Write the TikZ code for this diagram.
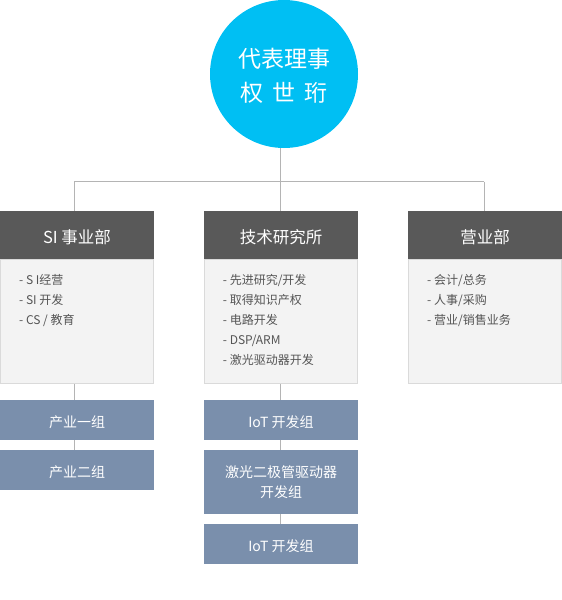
\documentclass[tikz,border=0pt]{standalone}
\usepackage{fontspec}
\setmainfont{Noto Sans CJK SC}
\definecolor{circC}{HTML}{00BFF3}
\definecolor{headC}{HTML}{595959}
\definecolor{bodyC}{HTML}{F3F3F3}
\definecolor{borderC}{HTML}{DADADA}
\definecolor{subC}{HTML}{7A8FAC}
\definecolor{lineC}{HTML}{B4B4B4}
\definecolor{itemC}{HTML}{555555}
\begin{document}
\begin{tikzpicture}[x=1pt,y=1pt,
  conn/.style={draw=lineC, line width=1pt},
  head/.style={rectangle, fill=headC, text=white, minimum width=154pt, minimum height=48pt, inner sep=0pt, text height=17.8pt, text depth=1pt, font=\fontsize{16.5}{18}\selectfont},
  bodybox/.style={rectangle, fill=bodyC, draw=borderC, line width=1pt, minimum width=153pt, minimum height=124pt, inner sep=0pt},
  item/.style={anchor=base west, inner sep=0pt, text=itemC, font=\fontsize{12}{14}\selectfont},
  sub/.style={rectangle, fill=subC, text=white, minimum width=154pt, inner sep=0pt, align=center, font=\fontsize{14}{20}\selectfont},
  subone/.style={sub, minimum height=40pt, text height=15.6pt, text depth=1pt},
  ceotext/.style={text=white, anchor=base, inner sep=0pt, font=\fontsize{23}{26}\selectfont}
]
\useasboundingbox (0,0) rectangle (562,-600);
% CEO circle
\node[circle, fill=circC, minimum size=148pt, inner sep=0pt] (ceo) at (284,-74) {};
\node[ceotext] (t1) at (284,-67.8) {代表理事};
\node[ceotext] (t2) at (284,-101.5) {权\hspace{9pt}世\hspace{9pt}珩};
% department bodies
\node[bodybox] (b1) at (77,-321.8) {};
\node[bodybox] (b2) at (281,-321.8) {};
\node[bodybox] (b3) at (485,-321.8) {};
% department headers
\node[head] (h1) at (77,-235.2) {SI 事业部};
\node[head] (h2) at (281,-235.2) {技术研究所};
\node[head] (h3) at (485,-235.2) {营业部};
% items
\node[item] (i11) at (19,-284.5) {- S I经营};
\node[item] (i12) at (19,-304.5) {- SI 开发};
\node[item] (i13) at (19,-324.5) {- CS / 教育};
\node[item] (i21) at (222.7,-284.5) {- 先进研究/开发};
\node[item] (i22) at (222.7,-304.5) {- 取得知识产权};
\node[item] (i23) at (222.7,-324.5) {- 电路开发};
\node[item] (i24) at (222.7,-344.5) {- DSP/ARM};
\node[item] (i25) at (222.7,-364.5) {- 激光驱动器开发};
\node[item] (i31) at (427,-284.5) {- 会计/总务};
\node[item] (i32) at (427,-304.5) {- 人事/采购};
\node[item] (i33) at (427,-324.5) {- 营业/销售业务};
% sub groups
\node[subone] (s1) at (77,-420) {产业一组};
\node[subone] (s2) at (77,-470) {产业二组};
\node[subone] (s3) at (281,-420) {IoT 开发组};
\node[sub, minimum height=64pt] (s4) at (281,-482) {激光二极管驱动器\\开发组};
\node[subone] (s5) at (281,-544) {IoT 开发组};
% connectors
\coordinate (j) at (280.3,-181.5);
\draw[conn] (ceo.south -| j) -- (j);
\draw[conn] ([xshift=-3pt]h1.north |- j) -- ([xshift=-0.7pt]h3.north |- j);
\draw[conn] ([xshift=-3pt]h1.north |- j) -- ([xshift=-3pt]h1.north);
\draw[conn] (j) -- ([xshift=-0.7pt]h2.north);
\draw[conn] ([xshift=-0.7pt]h3.north |- j) -- ([xshift=-0.7pt]h3.north);
\draw[conn] ([xshift=-3pt]b1.south) -- ([xshift=-3pt]s1.north);
\draw[conn] ([xshift=-3pt]s1.south) -- ([xshift=-3pt]s2.north);
\draw[conn] ([xshift=-0.7pt]b2.south) -- ([xshift=-0.7pt]s3.north);
\draw[conn] ([xshift=-0.7pt]s3.south) -- ([xshift=-0.7pt]s4.north);
\draw[conn] ([xshift=-0.7pt]s4.south) -- ([xshift=-0.7pt]s5.north);
\end{tikzpicture}
\end{document}
